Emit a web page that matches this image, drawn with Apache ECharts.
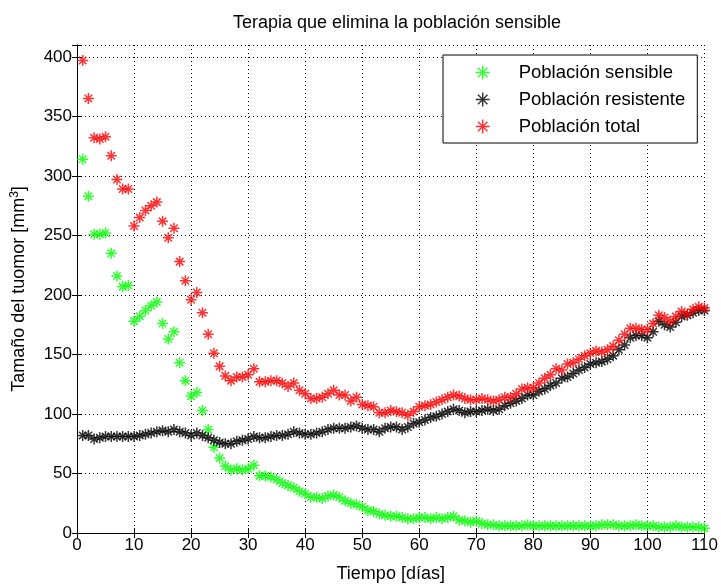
<!DOCTYPE html>
<html>
<head>
<meta charset="utf-8">
<script src="https://cdn.jsdelivr.net/npm/echarts@6/dist/echarts.min.js"></script>
<style>
  html, body { margin: 0; padding: 0; background: #fff; }
  #chart { width: 721px; height: 588px; }
</style>
</head>
<body>
<div id="chart"></div>
<script>
// dias de tratamiento
const dias = [
  1, 2, 3, 4, 5, 6, 7, 8, 9, 10, 11, 12, 13, 14, 15, 16, 17, 18, 19, 20,
  21, 22, 23, 24, 25, 26, 27, 28, 29, 30, 31, 32, 33, 34, 35, 36, 37, 38, 39, 40,
  41, 42, 43, 44, 45, 46, 47, 48, 49, 50, 51, 52, 53, 54, 55, 56, 57, 58, 59, 60,
  61, 62, 63, 64, 65, 66, 67, 68, 69, 70, 71, 72, 73, 74, 75, 76, 77, 78, 79, 80,
  81, 82, 83, 84, 85, 86, 87, 88, 89, 90, 91, 92, 93, 94, 95, 96, 97, 98, 99, 100,
  101, 102, 103, 104, 105, 106, 107, 108, 109, 110
]
// poblacion sensible
const sensible = [
  314, 283, 251, 251, 252, 235, 216, 207, 208, 178, 182, 187, 191, 194, 176, 163, 169, 143, 128, 115,
  118, 103, 87, 72, 63, 56, 53, 54, 53, 54, 57, 48, 48, 47, 45, 42, 40, 38, 35, 33,
  30, 30, 29, 31, 32, 30, 27, 25, 24, 22, 19, 18, 16, 15, 14, 14, 13, 12, 12, 13,
  13, 12, 13, 12, 13, 14, 11, 10, 9, 10, 8, 7, 7, 6, 6, 6, 6, 6, 7, 6,
  6, 6, 6, 6, 6, 6, 6, 6, 6, 6, 6, 7, 7, 7, 6, 6, 6, 7, 6, 6,
  6, 5, 5, 5, 6, 5, 5, 5, 5, 4
]
// poblacion resistente
const resistente = [
  82, 82, 79, 80, 81, 81, 81, 81, 81, 81, 82, 83, 84, 85, 86, 85, 87, 85, 84, 82,
  84, 82, 80, 78, 76, 75, 75, 77, 78, 79, 81, 80, 80, 81, 82, 82, 83, 85, 84, 83,
  83, 84, 85, 87, 88, 88, 88, 89, 90, 88, 87, 87, 85, 88, 89, 89, 87, 89, 92, 93,
  95, 97, 98, 100, 102, 104, 103, 101, 102, 102, 103, 104, 103, 104, 107, 109, 111, 113, 116, 116,
  119, 121, 124, 126, 130, 131, 134, 137, 139, 142, 143, 144, 146, 149, 154, 158, 164, 166, 166, 164,
  169, 178, 175, 173, 177, 182, 183, 185, 187, 187
]
// poblacion total
const total = [
  397, 365, 332, 331, 333, 317, 297, 289, 289, 258, 265, 271, 275, 278, 262, 248, 256, 228, 212, 196,
  202, 185, 167, 151, 140, 132, 128, 131, 131, 133, 138, 127, 127, 128, 128, 126, 123, 126, 120, 117,
  113, 113, 114, 117, 120, 116, 116, 111, 114, 108, 107, 106, 101, 101, 103, 102, 101, 99, 102, 106,
  107, 108, 110, 112, 114, 116, 115, 113, 112, 112, 113, 112, 111, 112, 114, 114, 117, 121, 122, 122,
  126, 130, 133, 138, 137, 142, 143, 146, 149, 151, 153, 152, 154, 157, 162, 167, 172, 172, 171, 171,
  176, 183, 181, 178, 182, 186, 184, 188, 190, 189
]
const yTicks = [0, 50, 100, 150, 200, 250, 300, 350, 400]

const fuente = 'Liberation Sans, Arial, sans-serif'
// asterisco tipo matlab
const asterisco = 'path://M5,0L5,10M0,5L10,5M1.6,1.6L8.4,8.4M8.4,1.6L1.6,8.4'

function pares(ys) {
  return ys.map((v, i) => [dias[i], v])
}

function serie(nombre, ys, color) {
  return {
    name: nombre,
    type: 'scatter',
    symbol: asterisco,
    symbolSize: 11,
    itemStyle: { color: color, borderColor: color, borderWidth: 1.5 },
    data: pares(ys),
    animation: false
  }
}

const myChart = echarts.init(document.getElementById('chart'))
const option = {
  backgroundColor: '#fff',
  title: {
    text: 'Terapia que elimina la población sensible',
    left: 392,
    top: 9,
    textAlign: 'center',
    textStyle: { color: '#000', fontWeight: 'normal', fontSize: 18, fontFamily: fuente }
  },
  legend: {
    orient: 'vertical',
    left: 443,
    top: 55,
    padding: [8, 12, 7, 32],
    itemGap: 8,
    itemWidth: 14,
    itemHeight: 14,
    backgroundColor: '#fff',
    borderColor: '#000',
    borderWidth: 1,
    borderRadius: 0,
    textStyle: { color: '#000', fontSize: 18.5, fontFamily: fuente, padding: [0, 0, 0, 24] },
    itemStyle: { borderWidth: 1.4 },
    data: ['Población sensible', 'Población resistente', 'Población total']
  },
  grid: { left: 77, right: 14, top: 45, bottom: 51, containLabel: false },
  xAxis: [
    {
      type: 'value',
      min: 0,
      max: 110,
      interval: 10,
      name: 'Tiempo [días]',
      nameLocation: 'middle',
      nameGap: 32,
      nameTextStyle: { color: '#000', fontSize: 18, fontFamily: fuente },
      axisLine: { show: true, lineStyle: { color: '#000', width: 1 } },
      axisTick: { show: true, inside: true, length: 5, lineStyle: { color: '#000' } },
      axisLabel: { color: '#000', fontSize: 17, fontFamily: fuente, margin: 4 },
      splitLine: { show: true, lineStyle: { color: '#000', type: [1, 3], width: 1 } }
    },
    {
      type: 'value',
      position: 'top',
      min: 0,
      max: 110,
      interval: 10,
      axisLine: { show: true, lineStyle: { color: '#000', width: 1 } },
      axisTick: { show: true, inside: true, length: 5, lineStyle: { color: '#000' } },
      axisLabel: { show: false },
      splitLine: { show: false }
    }
  ],
  yAxis: [
    {
      type: 'value',
      min: 0,
      max: 410,
      interval: 50,
      name: '{a|Tamaño del tuomor [mm}{b|3}{a|]}',
      nameLocation: 'middle',
      nameGap: 48,
      nameTextStyle: {
        rich: {
          a: { color: '#000', fontSize: 18, fontFamily: fuente },
          b: { color: '#000', fontSize: 12, fontFamily: fuente, verticalAlign: 'top', padding: [0, 0, 8, 0] }
        }
      },
      axisLine: { show: true, lineStyle: { color: '#000', width: 1 } },
      axisTick: { show: true, inside: true, length: 5, lineStyle: { color: '#000' } },
      axisLabel: {
        color: '#000', fontSize: 17, fontFamily: fuente, margin: 5,
        formatter: v => (yTicks.indexOf(v) >= 0 ? String(v) : '')
      },
      splitLine: { show: true, lineStyle: { color: '#000', type: [1, 3], width: 1 } }
    },
    {
      type: 'value',
      position: 'right',
      min: 0,
      max: 410,
      interval: 50,
      axisLine: { show: true, lineStyle: { color: '#000', width: 1 } },
      axisTick: { show: true, inside: true, length: 5, lineStyle: { color: '#000' } },
      axisLabel: { show: false },
      splitLine: { show: false }
    }
  ],
  series: [
    serie('Población sensible', sensible, '#00ff00'),
    serie('Población resistente', resistente, '#000000'),
    serie('Población total', total, '#ff0000')
  ]
}
myChart.setOption(option)
</script>
</body>
</html>
